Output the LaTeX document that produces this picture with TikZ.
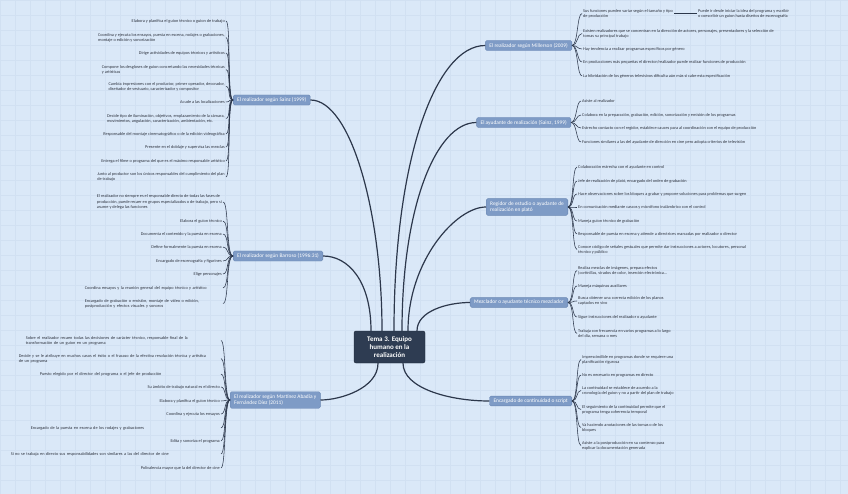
\documentclass[tikz,border=0pt]{standalone}
\usepackage{fontspec}
\setmainfont{Carlito}
\usepackage{xcolor}
\usepackage{tikz}
\usetikzlibrary{positioning}
\definecolor{mybg}{HTML}{DAE8F8}
\definecolor{mygrid}{HTML}{D1E0F2}
\definecolor{mynavy}{HTML}{2E3C52}
\definecolor{mynavyedge}{HTML}{1C2738}
\definecolor{mysteel}{HTML}{7E9BC6}
\definecolor{mysteeledge}{HTML}{6A87B3}
\definecolor{myink}{HTML}{2F3440}
\definecolor{mywire}{HTML}{2C374B}
\tikzset{
topic/.style={
fill=mynavy,
draw=mynavyedge,
rounded corners=2pt,
text=white,
font=\fontsize{7}{7.7}\selectfont\bfseries,
align=center,
minimum width=71pt,
minimum height=32pt,
inner sep=2pt
},
branch/.style={
fill=mysteel,
draw=mysteeledge,
line width=0.4pt,
rounded corners=1.5pt,
text=white,
font=\fontsize{5.4}{6.8}\selectfont,
align=left,
inner xsep=4pt,
inner ysep=2.6pt
},
leafR/.style={
anchor=west,
font=\fontsize{4.3}{5.2}\selectfont,
text=myink,
align=left,
inner sep=1pt
},
leafL/.style={
anchor=east,
font=\fontsize{4.3}{5.2}\selectfont,
text=myink,
align=left,
inner sep=1pt
},
trunk/.style={
draw=mywire,
line width=1.2pt
},
twig/.style={
draw=mywire,
line width=0.55pt
},
gridline/.style={
draw=mygrid,
line width=0.4pt
}
}

\begin{document}
\begin{tikzpicture}[x=1pt, y=-1pt]

% background and faint grid
\fill[mybg] (0,0) rectangle (848,494);
\useasboundingbox (0,0) rectangle (848,494);
\foreach \gx in {0,15,...,840} {
  \draw[gridline] (\gx,0) -- (\gx,494);
}
\foreach \gy in {0,15,...,490} {
  \draw[gridline] (0,\gy) -- (848,\gy);
}

\node[topic] (ctr) at (389.5,347) {Tema 3. Equipo\\ humano en la\\ realización};

% branches, left
\node[branch, anchor=west] (sainz) at (233,100) {El realizador según Sainz (1999)};
\node[branch, anchor=west] (barroso) at (233,256) {El realizador según Barroso (1996:31)};
\node[branch, anchor=west] (martinez) at (230,400) {El realizador según Martínez Abadía y\\ Fernández Díez (2011)};
% branches, right
\node[branch, anchor=east] (miller) at (572,45.5) {El realizador según Millerson (2009)};
\node[branch, anchor=east] (ayud) at (571,122.5) {El ayudante de realización (Sainz, 1999)};
\node[branch, anchor=east] (regidor) at (568,207) {Regidor de estudio o ayudante de\\ realización en plató};
\node[branch, anchor=east] (mezcla) at (568,302.5) {Mezclador o ayudante técnico mezclador};
\node[branch, anchor=east] (conti) at (572,401) {Encargado de continuidad o script};

% trunks from the topic
\draw[trunk] ([xshift=-7.5pt]ctr.north) .. controls +(0,-120) and +(40,0) .. (sainz.east);
\draw[trunk] ([xshift=-18.5pt]ctr.north) .. controls +(0,-50) and +(25,0) .. (barroso.east);
\draw[trunk] ([xshift=-11.5pt]ctr.south) .. controls +(0,25) and +(20,0) .. (martinez.east);
\draw[trunk] ([xshift=4.5pt]ctr.north) .. controls +(0,-170) and +(-50,0) .. (miller.west);
\draw[trunk] ([xshift=12.5pt]ctr.north) .. controls +(0,-125) and +(-40,0) .. (ayud.west);
\draw[trunk] ([xshift=18.5pt]ctr.north) .. controls +(0,-70) and +(-30,0) .. (regidor.west);
\draw[trunk] ([xshift=27.5pt]ctr.north) .. controls +(0,-20) and +(-22,0) .. (mezcla.west);
\draw[trunk] ([xshift=13.5pt]ctr.south) .. controls +(0,25) and +(-40,0) .. (conti.west);

% Sainz
\node[leafL] (s1) at (226,21) {Elabora y planifica el guion técnico o guion de trabajo};
\node[leafL] (s2) at (226,37.5) {Coordina y ejecuta los ensayos, puesta en escena, rodajes o grabaciones,\\ montaje o edición y sonorización};
\node[leafL] (s3) at (226,53) {Dirige actividades de equipos técnicos y artísticos};
\node[leafL] (s4) at (226,69.5) {Compone los desgloses de guion concretando las necesidades técnicas\\ y artísticas};
\node[leafL] (s5) at (226,86.5) {Cambia impresiones con el productor, primer operador, decorador,\\ diseñador de vestuario, caracterizador y compositor};
\node[leafL] (s6) at (226,102) {Acude a las localizaciones};
\node[leafL] (s7) at (226,118.5) {Decide tipo de iluminación, objetivos, emplazamiento de la cámara,\\ movimientos, angulación, caracterización, ambientación, etc.};
\node[leafL] (s8) at (226,134) {Responsable del montaje cinematográfico o de la edición videográfica};
\node[leafL] (s9) at (226,147) {Presente en el doblaje y supervisa las mezclas};
\node[leafL] (s10) at (226,161) {Entrega el filme o programa del que es el máximo responsable artístico};
\node[leafL] (s11) at (226,177) {Junto al productor son los únicos responsables del cumplimiento del plan\\ de trabajo};
\foreach \i in {1,...,11} {
  \draw[twig] (sainz.west) .. controls +(-6,0) and +(5,0) .. (s\i.east);
}

% Barroso
\node[leafL] (b1) at (223,202) {El realizador no siempre es el responsable directo de todas las fases de\\ producción, puede recaer en grupos especializados o de trabajo, pero sí\\ asume y delega las funciones};
\node[leafL] (b2) at (223,221) {Elabora el guion técnico};
\node[leafL] (b3) at (223,234) {Documenta el contenido y la puesta en escena};
\node[leafL] (b4) at (223,247) {Define formalmente la puesta en escena};
\node[leafL] (b5) at (223,261) {Encargado de escenografía y figurines};
\node[leafL] (b6) at (223,274) {Elige personajes};
\node[leafL, text width=137pt] (b7) at (223,288) {Coordina ensayos y la reunión general del equipo técnico y artístico};
\node[leafL, text width=137pt] (b8) at (223,303.5) {Encargado de grabación o emisión, montaje de vídeo o edición,\\ postproducción y efectos visuales y sonoros};
\foreach \i in {1,...,8} {
  \draw[twig] (barroso.west) .. controls +(-7,0) and +(6,0) .. (b\i.east);
}

% Martinez Abadia y Fernandez Diez
\node[leafL, text width=194pt] (m1) at (221,340.5) {Sobre el realizador recaen todas las decisiones de carácter técnico, responsable final de la\\ transformación de un guion en un programa};
\node[leafL, text width=201pt] (m2) at (221,358.5) {Decide y se le atribuye en muchos casos el éxito o el fracaso de la efectiva resolución técnica y artística\\ de un programa};
\node[leafL, text width=180pt] (m3) at (221,374) {Puesto elegido por el director del programa o el jefe de producción};
\node[leafL] (m4) at (221,387) {Su ámbito de trabajo natural es el directo};
\node[leafL] (m5) at (221,401) {Elabora y planifica el guion técnico};
\node[leafL] (m6) at (221,414) {Coordina y ejecuta los ensayos};
\node[leafL, text width=189pt] (m7) at (221,428) {Encargado de la puesta en escena de los rodajes y grabaciones};
\node[leafL] (m8) at (221,441) {Edita y sonoriza el programa};
\node[leafL, text width=209pt] (m9) at (221,454) {Si no se trabaja en directo sus responsabilidades son similares a las del director de cine};
\node[leafL] (m10) at (221,468) {Polivalencia mayor que la del director de cine};
\foreach \i in {1,...,10} {
  \draw[twig] (martinez.west) .. controls +(-6,0) and +(5,0) .. (m\i.east);
}

% Millerson
\node[leafR] (r1) at (582,13.5) {Sus funciones pueden variar según el tamaño y tipo\\ de producción};
\node[leafR] (r1a) at (697,13.5) {Puede ir desde iniciar la idea del programa y escribir\\ o coescribir un guion hasta diseños de escenografía};
\node[leafR] (r2) at (582,33.5) {Existen realizadores que se concentran en la dirección de actores, personajes, presentadores y la selección de\\ tomas su principal trabajo};
\node[leafR] (r3) at (582,49) {Hay tendencia a realizar programas específicos por género};
\node[leafR] (r4) at (582,62) {En producciones más pequeñas el director/realizador puede realizar funciones de producción};
\node[leafR] (r5) at (582,76) {La hibridación de los géneros televisivos dificulta aún más si cabe esta especificación};
\foreach \i in {1,...,5} {
  \draw[twig] (miller.east) .. controls +(6,0) and +(-5,0) .. (r\i.west);
}
\draw[twig] (r1.east) -- (r1a.west);

% ayudante de realizacion
\node[leafR] (a1) at (581,101) {Asiste al realizador};
\node[leafR] (a2) at (581,115) {Colabora en la preparación, grabación, edición, sonorización y emisión de los programas};
\node[leafR] (a3) at (581,128) {Estrecho contacto con el regidor, establece cauces para al coordinación con el equipo de producción};
\node[leafR] (a4) at (581,142) {Funciones similares a las del ayudante de dirección en cine pero adopta criterios de televisión};
\foreach \i in {1,...,4} {
  \draw[twig] (ayud.east) .. controls +(6,0) and +(-5,0) .. (a\i.west);
}

% regidor
\node[leafR] (g1) at (577,167) {Colaboración estrecha con el ayudante en control};
\node[leafR] (g2) at (577,181) {Jefe de realización de plató, encargado del orden de grabación};
\node[leafR] (g3) at (577,194) {Hace observaciones sobre los bloques a grabar y propone soluciones para problemas que surgen};
\node[leafR] (g4) at (577,207) {En comunicación mediante cascos y micrófono inalámbrico con el control};
\node[leafR] (g5) at (577,221) {Maneja guion técnico de grabación};
\node[leafR] (g6) at (577,234) {Responsable de puesta en escena y atiende a directrices marcadas por realizador o director};
\node[leafR] (g7) at (577,249.5) {Conoce código de señales gestuales que permite dar instrucciones a actores, locutores, personal\\ técnico y público};
\foreach \i in {1,...,7} {
  \draw[twig] (regidor.east) .. controls +(6,0) and +(-5,0) .. (g\i.west);
}

% mezclador
\node[leafR] (z1) at (577,270.5) {Realiza mezclas de imágenes, prepara efectos\\ (cortinillas, virados de color, inserción electrónica...};
\node[leafR] (z2) at (577,286) {Maneja máquinas auxiliares};
\node[leafR] (z3) at (577,301) {Busca obtener una correcta edición de los planos\\ captados en vivo};
\node[leafR] (z4) at (577,317) {Sigue instrucciones del realizador o ayudante};
\node[leafR] (z5) at (577,333.5) {Trabaja con frecuencia en varios programas a lo largo\\ del día, semana o mes};
\foreach \i in {1,...,5} {
  \draw[twig] (mezcla.east) .. controls +(6,0) and +(-5,0) .. (z\i.west);
}

% continuidad
\node[leafR] (c1) at (581,359.5) {Imprescindible en programas donde se requiere una\\ planificación rigurosa};
\node[leafR] (c2) at (581,375) {No es necesario en programas en directo};
\node[leafR] (c3) at (581,390.5) {La continuidad se establece de acuerdo a la\\ cronología del guion y no a partir del plan de trabajo};
\node[leafR] (c4) at (581,409.5) {El seguimiento de la continuidad permite que el\\ programa tenga coherencia temporal};
\node[leafR] (c5) at (581,427.5) {Va haciendo anotaciones de las tomas o de los\\ bloques};
\node[leafR] (c6) at (581,445.5) {Asiste a la postproducción en su comienzo para\\ explicar la documentación generada};
\foreach \i in {1,...,6} {
  \draw[twig] (conti.east) .. controls +(6,0) and +(-5,0) .. (c\i.west);
}

\end{tikzpicture}
\end{document}
